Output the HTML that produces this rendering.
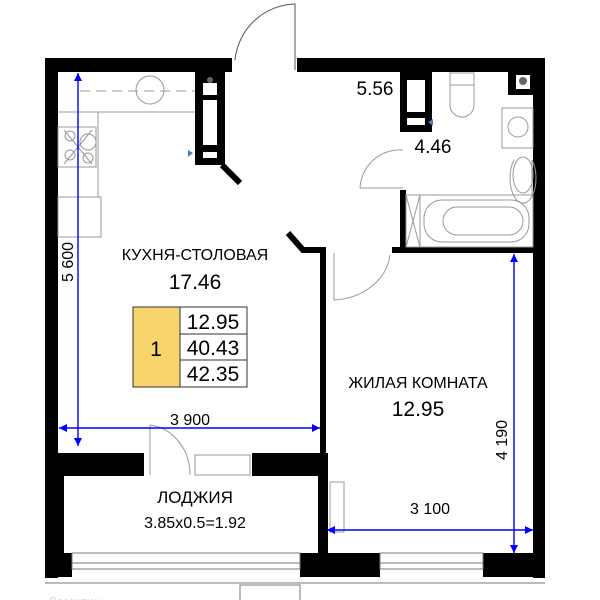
<!DOCTYPE html>
<html><head><meta charset="utf-8"><style>
html,body{margin:0;padding:0;background:#fff;}
svg{display:block;font-family:"Liberation Sans",sans-serif;}
</style></head><body>
<svg width="600" height="600" viewBox="0 0 600 600" xmlns="http://www.w3.org/2000/svg">
<defs>
<marker id="ar" viewBox="0 0 10 10" refX="10" refY="5" markerWidth="10" markerHeight="8" orient="auto-start-reverse" markerUnits="userSpaceOnUse"><path d="M0,0 L10,5 L0,10 z" fill="#0000ff"/></marker>
</defs>
<path d="M235,58 L235,60 A62,62 0 0 1 295,4 L295,70" fill="none" stroke="#555" stroke-width="1"/>
<g fill="#000">
<rect x="45" y="58" width="187" height="14"/>
<rect x="297" y="58" width="248" height="14"/>
<rect x="45" y="58" width="13" height="520"/>
<rect x="533" y="58" width="12" height="520"/>
<rect x="195" y="72" width="30" height="93"/>
<rect x="400" y="72" width="32" height="60"/>
<rect x="508" y="72" width="25" height="23"/>
<rect x="400" y="190" width="6" height="63"/>
<rect x="392" y="247" width="141" height="6"/>
<rect x="320" y="247" width="6" height="306"/>
<rect x="58" y="453" width="86" height="23"/>
<rect x="252" y="453" width="68" height="23"/>
<rect x="45" y="476" width="19" height="101"/>
<rect x="318" y="453" width="10" height="124"/>
<rect x="45" y="553" width="27" height="24"/>
<rect x="300" y="553" width="80" height="24"/>
<rect x="483" y="553" width="62" height="24"/>
</g>
<g fill="#fff">
<rect x="203" y="83" width="14" height="12"/>
<rect x="203" y="100" width="14" height="45"/>
<rect x="203" y="152" width="14" height="6"/>
<rect x="407" y="80" width="18" height="32"/>
<rect x="407" y="118" width="18" height="7"/>
<rect x="516" y="75" width="14" height="14"/>
</g>
<circle cx="210" cy="80" r="3" fill="#666"/>
<circle cx="523" cy="81" r="4" fill="#666"/>
<path d="M222,165 L240,183" stroke="#000" stroke-width="6"/>
<path d="M288,233 L303,250 L326,250" stroke="#000" stroke-width="6" fill="none"/>
<path d="M188,150 L193,153 L188,157z M433,119 L428,122 L433,126z" fill="#4a7fc0"/>
<g fill="none" stroke="#999" stroke-width="1">
<line x1="80" y1="91" x2="195" y2="91" stroke-dasharray="10,6"/>
<circle cx="150" cy="90" r="14"/>
<path d="M58,112 L98,112 L98,113 M98,112 L195,112"/>
<rect x="58" y="127" width="38" height="40"/>
<circle cx="70" cy="136" r="5"/><circle cx="88" cy="142" r="8"/><circle cx="70" cy="155" r="5"/><circle cx="88" cy="158" r="5"/>
<line x1="64" y1="130" x2="92" y2="164"/><line x1="92" y1="130" x2="64" y2="164"/>
<rect x="58" y="197" width="43" height="40"/>
<line x1="98" y1="112" x2="98" y2="197"/>
</g>
<g fill="none" stroke="#999" stroke-width="1">
<rect x="450" y="73" width="24" height="12"/>
<path d="M450,85 L450,105 A12,12 0 0 0 474,105 L474,85"/>
<rect x="502" y="108" width="31" height="40"/>
<circle cx="518" cy="127" r="10"/>
<path d="M514,160 A13,25 0 1 0 532,160 L532,195"/>
<ellipse cx="523" cy="175" rx="10" ry="18"/>
<rect x="406" y="195" width="127" height="52"/>
<rect x="424" y="200" width="105" height="42" rx="18"/>
<rect x="443" y="207" width="80" height="28" rx="14"/>
<line x1="406" y1="195" x2="420" y2="247"/><line x1="420" y1="195" x2="406" y2="247"/>
<line x1="420" y1="195" x2="420" y2="247"/>
<path d="M403,150 A40,40 0 0 0 360,188 L403,188"/>
<path d="M334,253 L334,300 A60,50 0 0 0 390,255"/>
<path d="M150,425 L150,475 M150,425 A45,50 0 0 1 190,475"/>
<rect x="195" y="455" width="55" height="20"/>
<rect x="330" y="482" width="14" height="50"/>
</g>
<g fill="none" stroke="#777" stroke-width="1">
<rect x="72" y="553" width="228" height="16"/>
<line x1="72" y1="563" x2="300" y2="563"/>
<rect x="380" y="553" width="103" height="16"/>
<line x1="380" y1="563" x2="483" y2="563"/>
<line x1="45" y1="583" x2="545" y2="583"/>
<rect x="240" y="585" width="60" height="40"/>
</g>
<rect x="133" y="307" width="47" height="80" fill="#f7d46c" stroke="#333" stroke-width="1"/>
<rect x="180" y="307" width="67" height="80" fill="#fff" stroke="#333" stroke-width="1"/>
<line x1="180" y1="334" x2="247" y2="334" stroke="#333"/><line x1="180" y1="360" x2="247" y2="360" stroke="#333"/>
<g font-size="21" fill="#000">
<text x="156" y="356" text-anchor="middle">1</text>
<text x="213" y="329" text-anchor="middle">12.95</text>
<text x="213" y="355" text-anchor="middle">40.43</text>
<text x="213" y="381" text-anchor="middle">42.35</text>
</g>
<g stroke="#0000ff" stroke-width="1.4" fill="none">
<line x1="78" y1="73" x2="78" y2="446" marker-start="url(#ar)" marker-end="url(#ar)"/>
<line x1="59" y1="428" x2="320" y2="428" marker-start="url(#ar)" marker-end="url(#ar)"/>
<line x1="514" y1="254" x2="514" y2="553" marker-start="url(#ar)" marker-end="url(#ar)"/>
<line x1="327" y1="530" x2="533" y2="530" marker-start="url(#ar)" marker-end="url(#ar)"/>
</g>
<g fill="#000" font-size="16">
<text x="190" y="425" text-anchor="middle">3 900</text>
<text x="430" y="514" text-anchor="middle">3 100</text>
<text transform="translate(73,262) rotate(-90)" text-anchor="middle">5 600</text>
<text transform="translate(507,440) rotate(-90)" text-anchor="middle">4 190</text>
<text x="195" y="260" text-anchor="middle" font-size="16">КУХНЯ-СТОЛОВАЯ</text>
<text x="195" y="289" text-anchor="middle" font-size="21">17.46</text>
<text x="418" y="388" text-anchor="middle" font-size="16">ЖИЛАЯ КОМНАТА</text>
<text x="418" y="416" text-anchor="middle" font-size="21">12.95</text>
<text x="195" y="503" text-anchor="middle" font-size="17">ЛОДЖИЯ</text>
<text x="195" y="528" text-anchor="middle" font-size="16">3.85x0.5=1.92</text>
<text x="375" y="95" text-anchor="middle" font-size="19">5.56</text>
<text x="433" y="153" text-anchor="middle" font-size="19">4.46</text>
<text x="48" y="606" font-size="13" fill="#ddd">Домклик</text>
</g>
</svg>
</body></html>
